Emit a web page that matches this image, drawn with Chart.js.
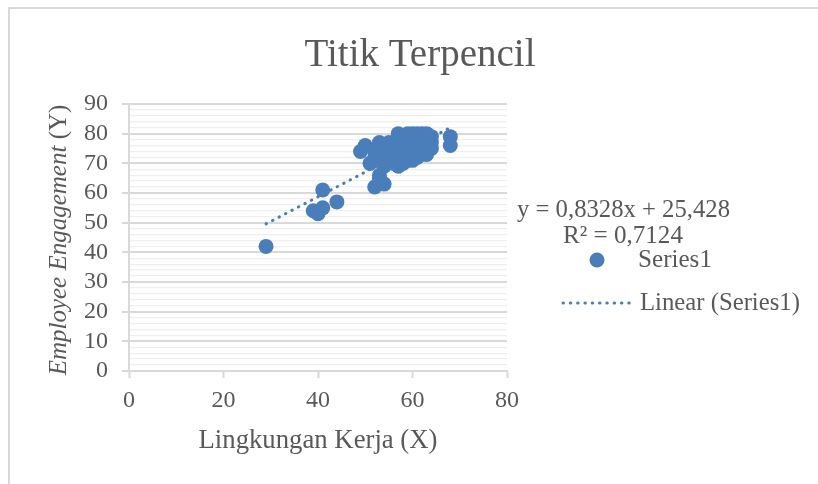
<!DOCTYPE html>
<html><head><meta charset="utf-8">
<script src="https://cdn.jsdelivr.net/npm/chart.js@4/dist/chart.umd.min.js"></script>
<style>html,body{margin:0;padding:0;background:#fff}#wrap{width:818px;height:484px;position:relative}</style>
</head><body><div id="wrap"><canvas id="c" width="818" height="484"></canvas></div>
<script>
const chartTitle = "Titik Terpencil";
const xAxisTitle = "Lingkungan Kerja (X)";
const yAxisTitleItalic = "Employee Engagement";
const yAxisTitleRest = " (Y)";
const seriesName = "Series1";
const trendName = "Linear (Series1)";
const xValues = [29,39,40,41,41,44,49,50,51,52,52,52,53,53,53,53,54,54,54,54,55,55,55,55,56,56,56,56,57,57,57,57,57,57,58,58,58,58,58,58,59,59,59,59,59,60,60,60,60,60,60,61,61,61,61,61,61,62,62,62,62,62,62,63,63,63,63,63,63,64,64,64,68,68];
const yValues = [42,54,53,55,61,57,74,76,70,62,72,74,65,66,75,77,63,69,72,74,71,73,76,77,70,72,75,77,69,72,74,76,78,80,70,72,73,75,77,79,71,74,76,78,80,71,73,75,77,79,80,72,73,74,76,78,80,73,74,75,77,79,80,73,74,76,78,79,80,75,77,79,76,79];
const trendSlope = 0.8328;
const trendIntercept = 25.428;
const trendR2 = 0.7124;
const xTicksMin = 0, xTicksMax = 80, xTickStep = 20;
const yTicksMin = 0, yTicksMax = 90, yMajorStep = 10, yMinorStep = 2;

const FONT = "'Liberation Serif', 'DejaVu Serif', serif";
const TXT = '#595959';
const BLUE = '#4a7ebb';
const dec = v => String(v).replace('.', ',');
const eqText = 'y = ' + dec(trendSlope) + 'x + ' + dec(trendIntercept);
const r2Text = 'R\u00B2 = ' + dec(trendR2);

const points = xValues.map((x, i) => ({x, y: yValues[i]}));
const tMin = Math.min(...xValues), tMax = Math.max(...xValues);
const trendPts = [tMin, tMax].map(x => ({x, y: trendSlope * x + trendIntercept}));

function fitText(ctx, text, target, style) {
  ctx.font = style + ' 100px ' + FONT;
  const w = ctx.measureText(text).width;
  const size = 100 * target / w;
  ctx.font = style + ' ' + size.toFixed(2) + 'px ' + FONT;
  return size;
}

const deco = {
  id: 'deco',
  beforeDraw(chart) {
    const ctx = chart.ctx;
    ctx.save();
    ctx.fillStyle = '#fff';
    ctx.fillRect(0, 0, chart.width, chart.height);
    ctx.strokeStyle = '#d9d9d9';
    ctx.lineWidth = 2;
    ctx.strokeRect(9, 8, 900, 600);
    ctx.restore();
  },
  afterDraw(chart) {
    const ctx = chart.ctx;
    const ca = chart.chartArea;
    ctx.save();
    ctx.fillStyle = TXT;
    ctx.textBaseline = 'alphabetic';
    ctx.textAlign = 'center';
    fitText(ctx, chartTitle, 231, 'normal');
    ctx.fillText(chartTitle, 420, 66);
    fitText(ctx, xAxisTitle, 239, 'normal');
    ctx.fillText(xAxisTitle, (ca.left + ca.right) / 2, 448);
    ctx.save();
    ctx.translate(66, 240);
    ctx.rotate(-Math.PI / 2);
    ctx.textAlign = 'left';
    const fs = 25;
    ctx.font = 'italic ' + fs + 'px ' + FONT;
    const w1 = ctx.measureText(yAxisTitleItalic).width;
    ctx.font = 'normal ' + fs + 'px ' + FONT;
    const w2 = ctx.measureText(yAxisTitleRest).width;
    const start = -(w1 + w2) / 2;
    ctx.font = 'italic ' + fs + 'px ' + FONT;
    ctx.fillText(yAxisTitleItalic, start, 0);
    ctx.font = 'normal ' + fs + 'px ' + FONT;
    ctx.fillText(yAxisTitleRest, start + w1, 0);
    ctx.restore();
    ctx.textAlign = 'left';
    fitText(ctx, eqText, 213, 'normal');
    ctx.fillText(eqText, 517, 217);
    fitText(ctx, r2Text, 120, 'normal');
    ctx.fillText(r2Text, 563, 243);
    ctx.fillStyle = BLUE;
    ctx.beginPath();
    ctx.arc(597, 260, 7.5, 0, Math.PI * 2);
    ctx.fill();
    ctx.fillStyle = TXT;
    fitText(ctx, seriesName, 74, 'normal');
    ctx.fillText(seriesName, 638, 267);
    ctx.strokeStyle = BLUE;
    ctx.lineWidth = 3;
    ctx.lineCap = 'round';
    ctx.setLineDash([0.5, 6.8]);
    ctx.beginPath();
    ctx.moveTo(563, 303);
    ctx.lineTo(632, 303);
    ctx.stroke();
    ctx.setLineDash([]);
    fitText(ctx, trendName, 160, 'normal');
    ctx.fillText(trendName, 640, 310);
    ctx.restore();
  }
};

new Chart(document.getElementById('c'), {
  type: 'scatter',
  data: {
    datasets: [
      {label: seriesName, data: points, backgroundColor: BLUE, borderColor: BLUE, borderWidth: 0, pointRadius: 7.5, pointHoverRadius: 7.5, order: 0},
      {type: 'line', label: trendName, data: trendPts, borderColor: BLUE, borderWidth: 3, borderCapStyle: 'round', borderDash: [0.5, 6.8], pointRadius: 0, fill: false, order: 1}
    ]
  },
  options: {
    responsive: false,
    animation: false,
    devicePixelRatio: 1,
    layout: {padding: {top: 104, left: 0, right: 311, bottom: 0}},
    plugins: {legend: {display: false}, title: {display: false}, tooltip: {enabled: false}},
    scales: {
      x: {
        type: 'linear', min: xTicksMin, max: xTicksMax,
        afterFit: s => { s.height = 113; },
        ticks: {stepSize: xTickStep, color: TXT, font: {family: FONT, size: 24}, padding: 8},
        grid: {drawOnChartArea: false, drawTicks: true, tickLength: 7, tickColor: '#d9d9d9', tickWidth: 2},
        border: {display: true, color: '#d9d9d9', width: 2}
      },
      y: {
        type: 'linear', min: yTicksMin, max: yTicksMax,
        afterFit: s => { s.width = 129; },
        ticks: {stepSize: yMinorStep, autoSkip: false, color: TXT, font: {family: FONT, size: 24}, padding: 14,
          callback: v => (v % yMajorStep === 0 ? v : '')},
        grid: {
          tickLength: 7,
          color: c => (c.tick && c.tick.value % yMajorStep === 0 ? '#d9d9d9' : '#efefef'),
          lineWidth: c => (c.tick && c.tick.value % yMajorStep === 0 ? 2 : 1.3),
          tickColor: c => (c.tick && c.tick.value % yMajorStep === 0 ? '#d9d9d9' : 'rgba(0,0,0,0)'),
          tickWidth: 2
        },
        border: {display: true, color: '#d9d9d9', width: 2}
      }
    }
  },
  plugins: [deco]
});
</script>
</body></html>
